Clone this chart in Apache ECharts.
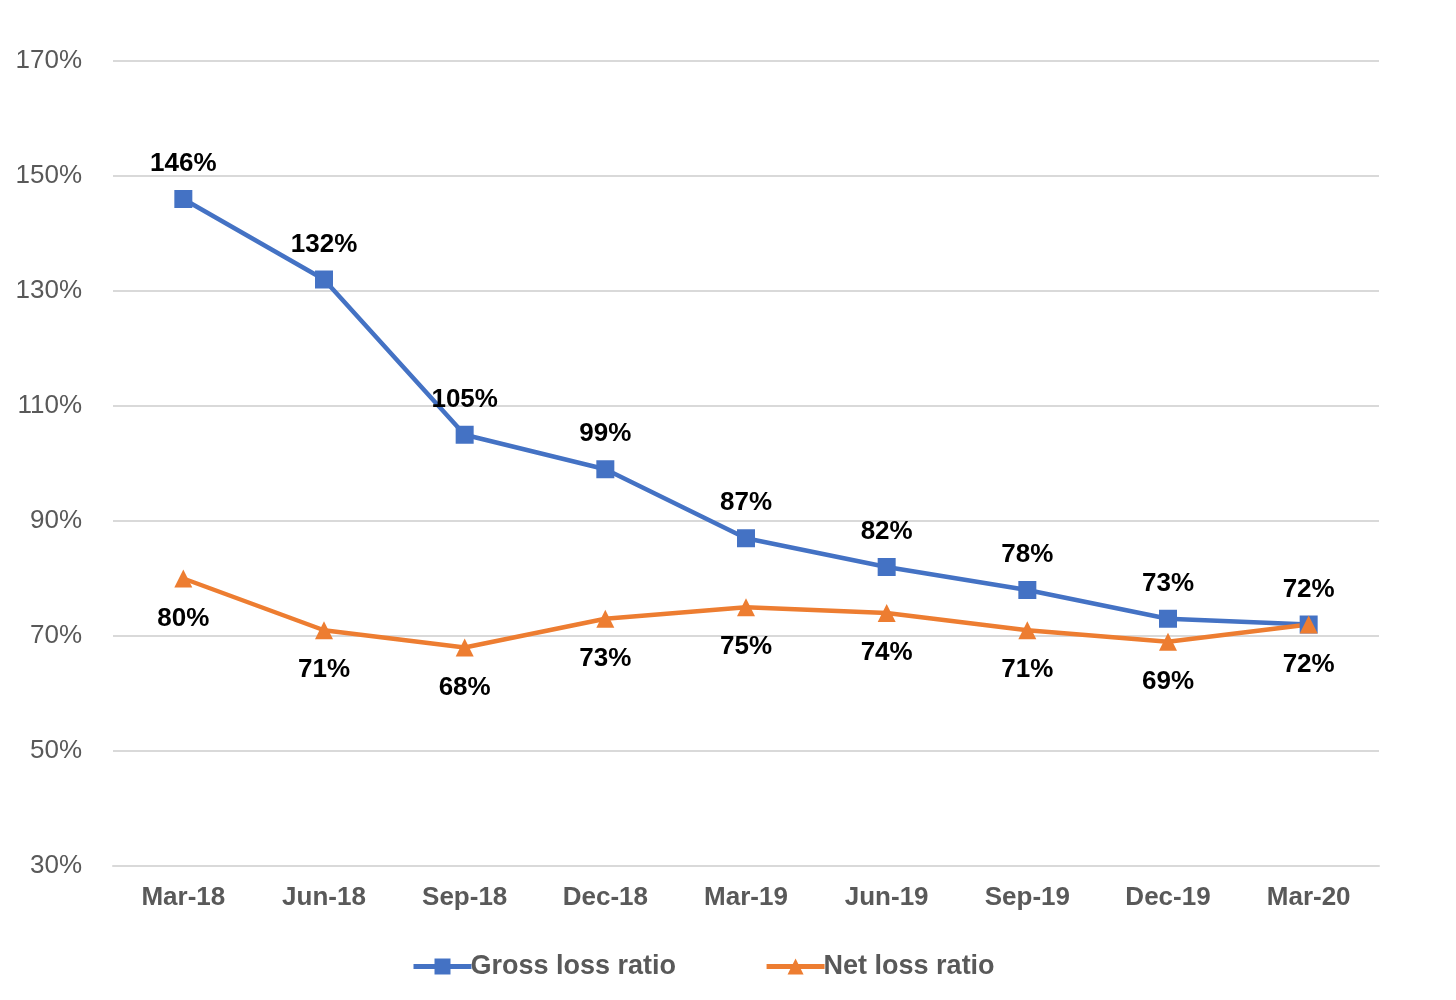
<!DOCTYPE html>
<html>
<head>
<meta charset="utf-8">
<script src="https://cdn.jsdelivr.net/npm/echarts@6/dist/echarts.min.js"></script>
<style>
  html, body { margin: 0; padding: 0; background: #fff; }
  #chart { width: 1456px; height: 1000px; }
</style>
</head>
<body>
<div id="chart"></div>
<script>
var categories = ['Mar-18', 'Jun-18', 'Sep-18', 'Dec-18', 'Mar-19', 'Jun-19', 'Sep-19', 'Dec-19', 'Mar-20'];
var grossLoss = [146, 132, 105, 99, 87, 82, 78, 73, 72];
var netLoss = [80, 71, 68, 73, 75, 74, 71, 69, 72];

var chartDom = document.getElementById('chart');
var myChart = echarts.init(chartDom);
var option;

var font = 'Liberation Sans, Arial, sans-serif';

option = {
  animation: false,
  textStyle: { fontFamily: font },
  grid: {
    left: 113,
    right: 77,
    top: 61,
    bottom: 134
  },
  legend: {
    bottom: 15,
    left: 406,
    itemWidth: 58,
    itemHeight: 20,
    itemGap: 88,
    lineStyle: { width: 5 },
    textStyle: {
      color: '#595959',
      fontSize: 27,
      fontWeight: 'bold',
      fontFamily: font,
      padding: [0, 0, 0, -6]
    },
    data: ['Gross loss ratio', 'Net loss ratio']
  },
  xAxis: {
    type: 'category',
    data: categories,
    boundaryGap: true,
    axisLine: { lineStyle: { color: '#d9d9d9', width: 2 } },
    axisTick: { show: false },
    axisLabel: {
      color: '#595959',
      fontSize: 26,
      fontWeight: 'bold',
      fontFamily: font,
      margin: 19
    }
  },
  yAxis: {
    type: 'value',
    min: 30,
    max: 170,
    interval: 20,
    axisLine: { show: false },
    axisTick: { show: false },
    splitLine: { lineStyle: { color: '#d9d9d9', width: 2 } },
    axisLabel: {
      formatter: '{value}%',
      color: '#595959',
      fontSize: 26,
      fontFamily: font,
      margin: 31
    }
  },
  series: [
    {
      name: 'Gross loss ratio',
      type: 'line',
      data: grossLoss,
      color: '#4472C4',
      symbol: 'rect',
      symbolSize: 18,
      lineStyle: { width: 4.5 },
      label: {
        show: true,
        position: 'top',
        distance: 13,
        formatter: '{c}%',
        color: '#000',
        fontSize: 26,
        fontWeight: 'bold',
        fontFamily: font
      }
    },
    {
      name: 'Net loss ratio',
      type: 'line',
      data: netLoss,
      color: '#ED7D31',
      symbol: 'triangle',
      symbolSize: 18,
      lineStyle: { width: 4.5 },
      label: {
        show: true,
        position: 'bottom',
        distance: 18,
        formatter: '{c}%',
        color: '#000',
        fontSize: 26,
        fontWeight: 'bold',
        fontFamily: font
      }
    }
  ]
};

option && myChart.setOption(option);
</script>
</body>
</html>
